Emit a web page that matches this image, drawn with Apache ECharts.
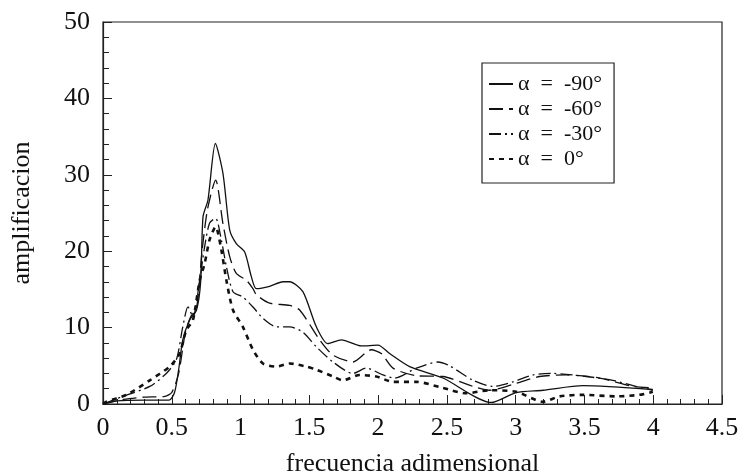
<!DOCTYPE html>
<html>
<head>
<meta charset="utf-8">
<script src="https://cdn.jsdelivr.net/npm/echarts@6/dist/echarts.min.js"></script>
<style>html,body{margin:0;padding:0;background:#fff}#c{width:740px;height:475px}</style>
</head>
<body>
<div id="c"></div>
<script>
var xTicks = [0, 0.5, 1, 1.5, 2, 2.5, 3, 3.5, 4, 4.5];
var yTicks = [0, 10, 20, 30, 40, 50];
var seriesNames = ['α  =  -90°', 'α  =  -60°', 'α  =  -30°', 'α  =  0°'];

var x90 = [0, 0.1, 0.3, 0.48, 0.52, 0.55, 0.58, 0.63, 0.68, 0.71, 0.727, 0.763, 0.817, 0.872, 0.921, 0.969, 1.03, 1.078, 1.115, 1.211, 1.308, 1.357, 1.453, 1.551, 1.635, 1.733, 1.878, 1.999, 2.084, 2.229, 2.471, 2.823, 3.004, 3.198, 3.488, 3.997];
var y90 = [0, 0.4, 0.5, 0.5, 1.5, 4.5, 8.4, 11, 12.3, 16, 24.5, 26.7, 34.1, 30.2, 22.8, 21, 19.9, 16.7, 15.1, 15.4, 16.0, 16.0, 14.7, 10.1, 7.9, 8.4, 7.6, 7.7, 6.6, 4.9, 3.4, 0.2, 1.5, 1.8, 2.4, 1.9];

var x60 = [0, 0.15, 0.3, 0.45, 0.5, 0.55, 0.6, 0.64, 0.68, 0.72, 0.76, 0.819, 0.872, 0.921, 0.969, 1.042, 1.09, 1.115, 1.211, 1.357, 1.43, 1.575, 1.672, 1.817, 1.95, 2.023, 2.108, 2.278, 2.471, 2.69, 2.81, 3.004, 3.174, 3.368, 3.61, 3.85, 3.997];
var y60 = [0, 0.6, 0.9, 1.0, 1.5, 4, 9.5, 11.5, 12.5, 20, 25.5, 29.3, 23.6, 19.3, 17.1, 16.2, 15.1, 14.3, 13.2, 12.9, 12.3, 8.4, 6.4, 5.5, 7.1, 6.6, 4.7, 3.7, 3.6, 2.3, 1.8, 2.7, 3.6, 3.8, 3.4, 2.3, 2.1];

var x30 = [0, 0.145, 0.34, 0.46, 0.533, 0.58, 0.618, 0.654, 0.703, 0.739, 0.775, 0.819, 0.86, 0.897, 0.945, 1.017, 1.09, 1.163, 1.26, 1.357, 1.453, 1.55, 1.672, 1.817, 1.914, 2.035, 2.12, 2.278, 2.435, 2.52, 2.69, 2.834, 2.98, 3.125, 3.27, 3.513, 3.706, 3.876, 3.997];
var y30 = [0, 1.0, 2.3, 4.0, 5.8, 10.1, 12.7, 11.4, 16.2, 20.6, 23.7, 24.3, 21.5, 18.0, 14.7, 14.0, 12.7, 11.2, 10.1, 10.1, 9.4, 7.5, 5.5, 4.0, 4.7, 3.8, 3.4, 4.7, 5.5, 5.0, 3.1, 2.3, 2.9, 3.8, 4.0, 3.6, 3.1, 2.3, 1.8];

var x0 = [0, 0.025, 0.17, 0.34, 0.485, 0.557, 0.606, 0.654, 0.703, 0.739, 0.775, 0.819, 0.86, 0.897, 0.945, 1.017, 1.09, 1.163, 1.26, 1.357, 1.478, 1.55, 1.672, 1.744, 1.866, 1.987, 2.108, 2.278, 2.471, 2.64, 2.81, 3.004, 3.198, 3.32, 3.488, 3.73, 3.9, 3.997];
var y0 = [0, 0.3, 1.2, 3.1, 4.9, 6.6, 9.7, 11.0, 16.2, 18.4, 21.5, 23.2, 20.2, 16.2, 12.3, 10.1, 7.1, 5.3, 4.9, 5.3, 4.9, 4.5, 3.6, 3.1, 3.8, 3.6, 2.9, 2.9, 2.1, 1.4, 1.8, 1.6, 0.3, 1.0, 1.2, 1.0, 1.2, 1.6];

function pairs(xs, ys) { return xs.map(function (x, i) { return [x, ys[i]]; }); }

var font = '"Liberation Serif", "Times New Roman", serif';
var chart = echarts.init(document.getElementById('c'), null, {renderer: 'canvas'});

function mk(name, xs, ys, type, width) {
  return {
    name: name, type: 'line', data: pairs(xs, ys), symbol: 'none', smooth: 0.25,
    lineStyle: {color: '#111', width: width, type: type},
    itemStyle: {color: '#111'}
  };
}

chart.setOption({
  animation: false,
  backgroundColor: '#fff',
  grid: {left: 103, right: 18, top: 22, bottom: 71, containLabel: false, outerBoundsMode: 'none',
    show: true, borderColor: '#222', borderWidth: 1.2, backgroundColor: 'transparent'},
  legend: {
    show: true,
    left: 482, top: 63, orient: 'vertical',
    backgroundColor: '#fff',
    borderColor: '#222', borderWidth: 1.2, borderRadius: 0,
    padding: [10, 12, 13, 6],
    itemWidth: 24, itemHeight: 14, itemGap: 3,
    itemStyle: {opacity: 0},
    textStyle: {fontFamily: font, fontSize: 22, lineHeight: 22, color: '#111'},
    data: seriesNames
  },
  xAxis: {
    type: 'value', min: 0, max: 4.5, interval: 0.5,
    name: 'frecuencia adimensional', nameLocation: 'middle', nameGap: 47,
    nameTextStyle: {fontFamily: font, fontSize: 26, color: '#111'},
    axisLine: {lineStyle: {color: '#222', width: 1.2}},
    axisTick: {inside: true, length: 9, lineStyle: {color: '#222'}},
    minorTick: {show: true, splitNumber: 5, length: 5, lineStyle: {color: '#222'}},
    splitLine: {show: false},
    axisLabel: {fontFamily: font, fontSize: 26, color: '#111', margin: 11,
      formatter: function (v) { return xTicks.indexOf(v) >= 0 ? String(v) : ''; }}
  },
  yAxis: {
    type: 'value', min: 0, max: 50, interval: 10,
    name: 'amplificacion', nameLocation: 'middle', nameGap: 68, nameRotate: 90,
    nameTextStyle: {fontFamily: font, fontSize: 26, color: '#111'},
    axisLine: {lineStyle: {color: '#222', width: 1.2}},
    axisTick: {inside: true, length: 9, lineStyle: {color: '#222'}},
    minorTick: {show: true, splitNumber: 5, length: 6, lineStyle: {color: '#222'}},
    splitLine: {show: false},
    axisLabel: {fontFamily: font, fontSize: 26, color: '#111', margin: 13,
      formatter: function (v) { return yTicks.indexOf(v) >= 0 ? String(v) : ''; }}
  },
  series: [
    mk(seriesNames[0], x90, y90, 'solid', 1.3),
    mk(seriesNames[1], x60, y60, [14, 6], 1.3),
    mk(seriesNames[2], x30, y30, [12, 4, 2, 4], 1.3),
    mk(seriesNames[3], x0, y0, [5, 5], 2.6)
  ]
});
</script>
</body>
</html>
